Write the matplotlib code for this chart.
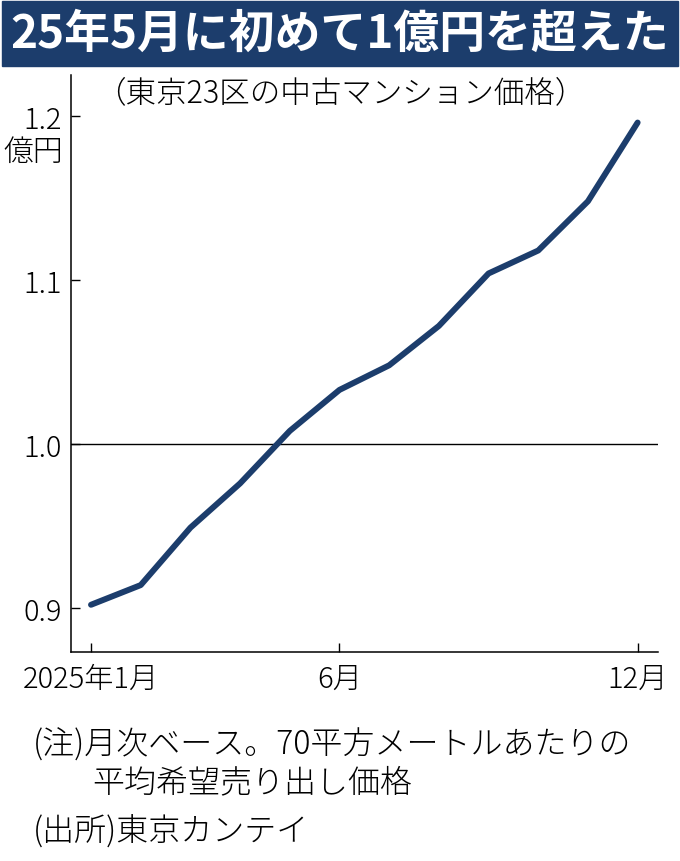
"""Tokyo 23-ward used condo prices, 2025 monthly."""

import matplotlib
matplotlib.use("Agg")
import matplotlib.pyplot as plt
from matplotlib.patches import Rectangle

plt.rcParams['font.family'] = ['Noto Sans CJK JP', 'DejaVu Sans']
plt.rcParams['font.weight'] = 'light'

# Data (億円, monthly 2025)
months = list(range(1, 13))
prices = [0.902, 0.914, 0.949, 0.976, 1.008, 1.033,
          1.048, 1.072, 1.104, 1.118, 1.148, 1.196]
x_ticks = [1, 6, 12]
x_labels = ['2025年1月', '6月', '12月']
y_ticks = [0.9, 1.0, 1.1, 1.2]
y_labels = ['0.9', '1.0', '1.1', '1.2']

title = '25年5月に初めて1億円を超えた'
subtitle = '（東京23区の中古マンション価格）'
unit = '億円'
note1 = '(注)月次ベース。70平方メートルあたりの'
note2 = '平均希望売り出し価格'
source = '(出所)東京カンテイ'

NAVY = '#1c3d6c'
W, H = 680, 862

fig = plt.figure(figsize=(W / 100, H / 100), dpi=100)

# Title banner
fig.patches.append(Rectangle((2 / W, 1 - 67 / H), 676 / W, 65 / H,
                             transform=fig.transFigure, color=NAVY, zorder=0))
fig.text(340 / W, 1 - 35 / H, title, color='white', fontsize=33,
         fontweight='bold', ha='center', va='center')

ax = fig.add_axes([70.5 / W, 1 - 653 / H, (658 - 70.5) / W, (653 - 76) / H])
ax.plot(months, prices, color=NAVY, lw=4.3, solid_capstyle='round',
        solid_joinstyle='round', zorder=3)
ax.axhline(1.0, color='black', lw=1.0, zorder=2)

ax.set_xlim(0.587, 12.41)
ax.set_ylim(0.8732, 1.225)
ax.set_xticks(x_ticks)
ax.set_xticklabels(x_labels)
ax.set_yticks(y_ticks)
ax.set_yticklabels(y_labels)
ax.tick_params(axis='both', direction='in', length=6.5, width=1.0,
               labelsize=21, pad=6, colors='black')
ax.tick_params(axis='x', pad=8)

for side in ['top', 'right']:
    ax.spines[side].set_visible(False)
for side in ['left', 'bottom']:
    ax.spines[side].set_linewidth(1.1)

fig.text(340 / W, 1 - 93 / H, subtitle, fontsize=22, ha='center', va='center')
fig.text(63 / W, 1 - 153 / H, unit, fontsize=21.5, ha='right', va='center')

fig.text(33 / W, 1 - 745 / H, note1, fontsize=23, ha='left', va='center')
fig.text(92 / W, 1 - 783 / H, note2, fontsize=23, ha='left', va='center')
fig.text(33 / W, 1 - 832 / H, source, fontsize=23, ha='left', va='center')

fig.savefig('out.png', dpi=100)
